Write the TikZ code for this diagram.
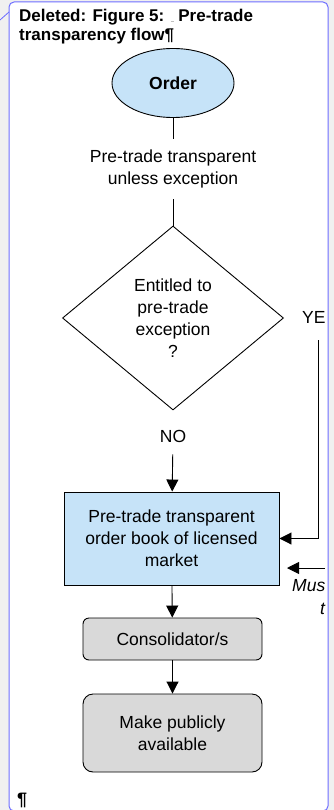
\documentclass[tikz,border=0pt]{standalone}
\usepackage{fontspec}
\setmainfont{Liberation Sans}
\usetikzlibrary{shapes.geometric,arrows.meta}
\definecolor{ordblue}{HTML}{C6E3F8}
\definecolor{boxgray}{HTML}{D9D9D9}
\definecolor{balloon}{HTML}{6E6EFF}
\definecolor{pagegray}{HTML}{F0F0F0}
\begin{document}
\begin{tikzpicture}[x = 1pt, y = -1pt,
		txt/.style = {font = \fontsize{17.5}{22}\selectfont, align = center, inner sep = 0pt},
		arr/.style = {line width = 0.9pt, -{Triangle[length = 12pt, width = 12pt]}},
		ln/.style = {line width = 0.9pt},
		grybox/.style = {txt, draw, line width = 0.9pt, fill = boxgray, rounded corners = 6pt, minimum width = 179pt}]
		%%%%%%%%%%%%%
		\fill[pagegray] (0, 0) rectangle (334, 810);
		\useasboundingbox (0, 0) rectangle (334, 810);
		\filldraw[fill = white, draw = balloon, line width = 1pt, rounded corners = 5pt] (9, 2) rectangle (328, 811);
		\draw[balloon, line width = 0.8pt] (0, 20) -- (9, 12);
		%%%%%%%%%%%%%
		\node[anchor = north west, align = left, inner sep = 0pt, font = \fontsize{17}{19}\selectfont\bfseries] (title) at (19, 9)
			{Deleted: Figure 5: \textcolor{gray!50}{\rule{3pt}{1pt}} Pre-trade\\transparency flow¶};
		\node[ellipse, draw, line width = 0.9pt, fill = ordblue, minimum width = 122pt, minimum height = 69pt, font = \fontsize{17.5}{22}\selectfont\bfseries] (order) at (173, 83) {Order};
		\node[txt, inner ysep = 11pt] (ptt) at (173, 169) {Pre-trade transparent\\unless exception};
		\node[txt, diamond, draw, line width = 0.9pt, minimum width = 221pt, minimum height = 184pt] (entitled) at (173, 318) {Entitled to\\pre-trade\\exception\\?};
		\node[txt, anchor = west] (yes) at (302, 317) {YE};
		\node[txt, inner sep = 12pt] (no) at (173, 436) {NO};
		\node[txt, draw, line width = 0.9pt, fill = ordblue, minimum width = 215pt, minimum height = 93pt] (book) at (171.5, 538.5) {Pre-trade transparent\\order book of licensed\\market};
		\node[grybox, minimum height = 42pt] (cons) at (172.5, 639) {Consolidator/s};
		\node[grybox, minimum height = 78pt, rounded corners = 10pt] (public) at (172.5, 733) {Make publicly\\available};
		\node[txt, anchor = west, font = \fontsize{17.5}{22}\selectfont\itshape] (must) at (292, 586) {Mus};
		\node[txt, anchor = west, font = \fontsize{17.5}{22}\selectfont\itshape] (mustb) at (320, 609) {t};
		\node[anchor = west, inner sep = 0pt, font = \fontsize{18}{18}\selectfont\bfseries] (para) at (17, 800) {¶};
		%%%%%%%%%%%%%
		\coordinate (yesline) at (318, 340);
		\coordinate (mustin) at (325, 568);
		\coordinate (mustend) at (287, 568);
		%%%%%%%%%%%%%
		\draw[ln] (order) to (ptt);
		\draw[ln] (ptt) to (entitled);
		\draw[arr] (no) to (book);
		\draw[arr] (yesline) |- (book.east);
		\draw[arr] (mustin) to (mustend);
		\draw[arr] (book) to (cons);
		\draw[arr] (cons) to (public);
		%%%%%%%%%%%%%
	\end{tikzpicture}
\end{document}
